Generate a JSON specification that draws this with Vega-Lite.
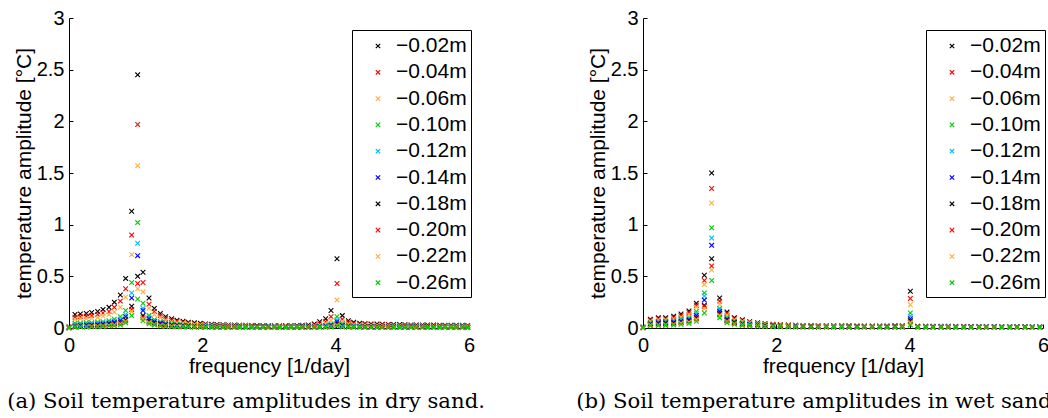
{
"$schema":"https://vega.github.io/schema/vega-lite/v6.json",
"autosize":{"type":"none"},
"padding":{"left":69,"top":18,"right":979,"bottom":400},
"background":"white",
"config":{
 "view":{"stroke":null},
 "axis":{"domainColor":"black","tickColor":"black","labelColor":"black","titleColor":"black","labelFont":"Liberation Sans","titleFont":"Liberation Sans","labelFontSize":20,"titleFontSize":21,"titleFontWeight":"normal","grid":false,"tickSize":-4,"domainWidth":1,"tickWidth":1,"labelFlush":false,"labelOverlap":false},
 "title":{"font":"DejaVu Serif","fontSize":21.2,"fontWeight":"normal","color":"black"}
},
"datasets":{
"L":[
{"f":0,"d":2,"a":0.01},{"f":0,"d":4,"a":0.008},{"f":0,"d":6,"a":0.006},{"f":0,"d":10,"a":0.005},{"f":0,"d":12,"a":0.004},{"f":0,"d":14,"a":0.004},{"f":0,"d":18,"a":0.003},{"f":0,"d":20,"a":0.003},{"f":0,"d":22,"a":0.003},{"f":0,"d":26,"a":0.003},
{"f":0.09,"d":2,"a":0.13},{"f":0.09,"d":4,"a":0.105},{"f":0.09,"d":6,"a":0.085},{"f":0.09,"d":10,"a":0.045},{"f":0.09,"d":12,"a":0.03},{"f":0.09,"d":14,"a":0.02},{"f":0.09,"d":18,"a":0.015},{"f":0.09,"d":20,"a":0.012},{"f":0.09,"d":22,"a":0.01},{"f":0.09,"d":26,"a":0.008},
{"f":0.17,"d":2,"a":0.135},{"f":0.17,"d":4,"a":0.11},{"f":0.17,"d":6,"a":0.09},{"f":0.17,"d":10,"a":0.045},{"f":0.17,"d":12,"a":0.035},{"f":0.17,"d":14,"a":0.025},{"f":0.17,"d":18,"a":0.018},{"f":0.17,"d":20,"a":0.015},{"f":0.17,"d":22,"a":0.012},{"f":0.17,"d":26,"a":0.01},
{"f":0.26,"d":2,"a":0.14},{"f":0.26,"d":4,"a":0.115},{"f":0.26,"d":6,"a":0.09},{"f":0.26,"d":10,"a":0.05},{"f":0.26,"d":12,"a":0.035},{"f":0.26,"d":14,"a":0.03},{"f":0.26,"d":18,"a":0.02},{"f":0.26,"d":20,"a":0.016},{"f":0.26,"d":22,"a":0.013},{"f":0.26,"d":26,"a":0.01},
{"f":0.34,"d":2,"a":0.15},{"f":0.34,"d":4,"a":0.12},{"f":0.34,"d":6,"a":0.095},{"f":0.34,"d":10,"a":0.05},{"f":0.34,"d":12,"a":0.04},{"f":0.34,"d":14,"a":0.03},{"f":0.34,"d":18,"a":0.022},{"f":0.34,"d":20,"a":0.018},{"f":0.34,"d":22,"a":0.015},{"f":0.34,"d":26,"a":0.012},
{"f":0.43,"d":2,"a":0.16},{"f":0.43,"d":4,"a":0.13},{"f":0.43,"d":6,"a":0.1},{"f":0.43,"d":10,"a":0.055},{"f":0.43,"d":12,"a":0.045},{"f":0.43,"d":14,"a":0.035},{"f":0.43,"d":18,"a":0.025},{"f":0.43,"d":20,"a":0.02},{"f":0.43,"d":22,"a":0.017},{"f":0.43,"d":26,"a":0.013},
{"f":0.51,"d":2,"a":0.18},{"f":0.51,"d":4,"a":0.145},{"f":0.51,"d":6,"a":0.115},{"f":0.51,"d":10,"a":0.06},{"f":0.51,"d":12,"a":0.05},{"f":0.51,"d":14,"a":0.04},{"f":0.51,"d":18,"a":0.03},{"f":0.51,"d":20,"a":0.025},{"f":0.51,"d":22,"a":0.02},{"f":0.51,"d":26,"a":0.015},
{"f":0.6,"d":2,"a":0.2},{"f":0.6,"d":4,"a":0.16},{"f":0.6,"d":6,"a":0.13},{"f":0.6,"d":10,"a":0.07},{"f":0.6,"d":12,"a":0.055},{"f":0.6,"d":14,"a":0.045},{"f":0.6,"d":18,"a":0.035},{"f":0.6,"d":20,"a":0.03},{"f":0.6,"d":22,"a":0.025},{"f":0.6,"d":26,"a":0.02},
{"f":0.68,"d":2,"a":0.25},{"f":0.68,"d":4,"a":0.2},{"f":0.68,"d":6,"a":0.155},{"f":0.68,"d":10,"a":0.085},{"f":0.68,"d":12,"a":0.065},{"f":0.68,"d":14,"a":0.055},{"f":0.68,"d":18,"a":0.04},{"f":0.68,"d":20,"a":0.035},{"f":0.68,"d":22,"a":0.03},{"f":0.68,"d":26,"a":0.022},
{"f":0.77,"d":2,"a":0.32},{"f":0.77,"d":4,"a":0.26},{"f":0.77,"d":6,"a":0.2},{"f":0.77,"d":10,"a":0.11},{"f":0.77,"d":12,"a":0.085},{"f":0.77,"d":14,"a":0.07},{"f":0.77,"d":18,"a":0.05},{"f":0.77,"d":20,"a":0.045},{"f":0.77,"d":22,"a":0.04},{"f":0.77,"d":26,"a":0.03},
{"f":0.85,"d":2,"a":0.48},{"f":0.85,"d":4,"a":0.38},{"f":0.85,"d":6,"a":0.3},{"f":0.85,"d":10,"a":0.17},{"f":0.85,"d":12,"a":0.13},{"f":0.85,"d":14,"a":0.11},{"f":0.85,"d":18,"a":0.08},{"f":0.85,"d":20,"a":0.07},{"f":0.85,"d":22,"a":0.06},{"f":0.85,"d":26,"a":0.05},
{"f":0.94,"d":2,"a":1.13},{"f":0.94,"d":4,"a":0.9},{"f":0.94,"d":6,"a":0.71},{"f":0.94,"d":10,"a":0.44},{"f":0.94,"d":12,"a":0.34},{"f":0.94,"d":14,"a":0.29},{"f":0.94,"d":18,"a":0.21},{"f":0.94,"d":20,"a":0.18},{"f":0.94,"d":22,"a":0.16},{"f":0.94,"d":26,"a":0.12},
{"f":1.03,"d":2,"a":2.45},{"f":1.03,"d":4,"a":1.97},{"f":1.03,"d":6,"a":1.57},{"f":1.03,"d":10,"a":1.02},{"f":1.03,"d":12,"a":0.82},{"f":1.03,"d":14,"a":0.7},{"f":1.03,"d":18,"a":0.5},{"f":1.03,"d":20,"a":0.43},{"f":1.03,"d":22,"a":0.38},{"f":1.03,"d":26,"a":0.28},
{"f":1.11,"d":2,"a":0.54},{"f":1.11,"d":4,"a":0.44},{"f":1.11,"d":6,"a":0.35},{"f":1.11,"d":10,"a":0.24},{"f":1.11,"d":12,"a":0.19},{"f":1.11,"d":14,"a":0.17},{"f":1.11,"d":18,"a":0.12},{"f":1.11,"d":20,"a":0.1},{"f":1.11,"d":22,"a":0.09},{"f":1.11,"d":26,"a":0.07},
{"f":1.2,"d":2,"a":0.29},{"f":1.2,"d":4,"a":0.23},{"f":1.2,"d":6,"a":0.19},{"f":1.2,"d":10,"a":0.12},{"f":1.2,"d":12,"a":0.1},{"f":1.2,"d":14,"a":0.09},{"f":1.2,"d":18,"a":0.065},{"f":1.2,"d":20,"a":0.055},{"f":1.2,"d":22,"a":0.05},{"f":1.2,"d":26,"a":0.04},
{"f":1.28,"d":2,"a":0.19},{"f":1.28,"d":4,"a":0.16},{"f":1.28,"d":6,"a":0.13},{"f":1.28,"d":10,"a":0.08},{"f":1.28,"d":12,"a":0.065},{"f":1.28,"d":14,"a":0.06},{"f":1.28,"d":18,"a":0.045},{"f":1.28,"d":20,"a":0.04},{"f":1.28,"d":22,"a":0.035},{"f":1.28,"d":26,"a":0.03},
{"f":1.37,"d":2,"a":0.14},{"f":1.37,"d":4,"a":0.12},{"f":1.37,"d":6,"a":0.1},{"f":1.37,"d":10,"a":0.06},{"f":1.37,"d":12,"a":0.05},{"f":1.37,"d":14,"a":0.045},{"f":1.37,"d":18,"a":0.035},{"f":1.37,"d":20,"a":0.03},{"f":1.37,"d":22,"a":0.025},{"f":1.37,"d":26,"a":0.02},
{"f":1.45,"d":2,"a":0.11},{"f":1.45,"d":4,"a":0.09},{"f":1.45,"d":6,"a":0.075},{"f":1.45,"d":10,"a":0.05},{"f":1.45,"d":12,"a":0.04},{"f":1.45,"d":14,"a":0.035},{"f":1.45,"d":18,"a":0.03},{"f":1.45,"d":20,"a":0.025},{"f":1.45,"d":22,"a":0.02},{"f":1.45,"d":26,"a":0.015},
{"f":1.54,"d":2,"a":0.09},{"f":1.54,"d":4,"a":0.075},{"f":1.54,"d":6,"a":0.06},{"f":1.54,"d":10,"a":0.04},{"f":1.54,"d":12,"a":0.035},{"f":1.54,"d":14,"a":0.03},{"f":1.54,"d":18,"a":0.025},{"f":1.54,"d":20,"a":0.02},{"f":1.54,"d":22,"a":0.016},{"f":1.54,"d":26,"a":0.012},
{"f":1.62,"d":2,"a":0.075},{"f":1.62,"d":4,"a":0.065},{"f":1.62,"d":6,"a":0.05},{"f":1.62,"d":10,"a":0.035},{"f":1.62,"d":12,"a":0.03},{"f":1.62,"d":14,"a":0.025},{"f":1.62,"d":18,"a":0.02},{"f":1.62,"d":20,"a":0.017},{"f":1.62,"d":22,"a":0.014},{"f":1.62,"d":26,"a":0.01},
{"f":1.71,"d":2,"a":0.065},{"f":1.71,"d":4,"a":0.055},{"f":1.71,"d":6,"a":0.045},{"f":1.71,"d":10,"a":0.03},{"f":1.71,"d":12,"a":0.025},{"f":1.71,"d":14,"a":0.021},{"f":1.71,"d":18,"a":0.017},{"f":1.71,"d":20,"a":0.015},{"f":1.71,"d":22,"a":0.012},{"f":1.71,"d":26,"a":0.01},
{"f":1.79,"d":2,"a":0.055},{"f":1.79,"d":4,"a":0.046},{"f":1.79,"d":6,"a":0.04},{"f":1.79,"d":10,"a":0.026},{"f":1.79,"d":12,"a":0.022},{"f":1.79,"d":14,"a":0.019},{"f":1.79,"d":18,"a":0.015},{"f":1.79,"d":20,"a":0.013},{"f":1.79,"d":22,"a":0.011},{"f":1.79,"d":26,"a":0.009},
{"f":1.88,"d":2,"a":0.05},{"f":1.88,"d":4,"a":0.041},{"f":1.88,"d":6,"a":0.035},{"f":1.88,"d":10,"a":0.023},{"f":1.88,"d":12,"a":0.02},{"f":1.88,"d":14,"a":0.017},{"f":1.88,"d":18,"a":0.013},{"f":1.88,"d":20,"a":0.012},{"f":1.88,"d":22,"a":0.01},{"f":1.88,"d":26,"a":0.008},
{"f":1.97,"d":2,"a":0.045},{"f":1.97,"d":4,"a":0.037},{"f":1.97,"d":6,"a":0.031},{"f":1.97,"d":10,"a":0.021},{"f":1.97,"d":12,"a":0.018},{"f":1.97,"d":14,"a":0.015},{"f":1.97,"d":18,"a":0.012},{"f":1.97,"d":20,"a":0.011},{"f":1.97,"d":22,"a":0.009},{"f":1.97,"d":26,"a":0.007},
{"f":2.05,"d":2,"a":0.04},{"f":2.05,"d":4,"a":0.033},{"f":2.05,"d":6,"a":0.028},{"f":2.05,"d":10,"a":0.019},{"f":2.05,"d":12,"a":0.016},{"f":2.05,"d":14,"a":0.014},{"f":2.05,"d":18,"a":0.011},{"f":2.05,"d":20,"a":0.01},{"f":2.05,"d":22,"a":0.008},{"f":2.05,"d":26,"a":0.007},
{"f":2.14,"d":2,"a":0.036},{"f":2.14,"d":4,"a":0.03},{"f":2.14,"d":6,"a":0.025},{"f":2.14,"d":10,"a":0.017},{"f":2.14,"d":12,"a":0.015},{"f":2.14,"d":14,"a":0.013},{"f":2.14,"d":18,"a":0.01},{"f":2.14,"d":20,"a":0.009},{"f":2.14,"d":22,"a":0.008},{"f":2.14,"d":26,"a":0.006},
{"f":2.22,"d":2,"a":0.033},{"f":2.22,"d":4,"a":0.028},{"f":2.22,"d":6,"a":0.023},{"f":2.22,"d":10,"a":0.016},{"f":2.22,"d":12,"a":0.014},{"f":2.22,"d":14,"a":0.012},{"f":2.22,"d":18,"a":0.01},{"f":2.22,"d":20,"a":0.009},{"f":2.22,"d":22,"a":0.007},{"f":2.22,"d":26,"a":0.006},
{"f":2.31,"d":2,"a":0.031},{"f":2.31,"d":4,"a":0.026},{"f":2.31,"d":6,"a":0.022},{"f":2.31,"d":10,"a":0.015},{"f":2.31,"d":12,"a":0.013},{"f":2.31,"d":14,"a":0.011},{"f":2.31,"d":18,"a":0.009},{"f":2.31,"d":20,"a":0.008},{"f":2.31,"d":22,"a":0.007},{"f":2.31,"d":26,"a":0.006},
{"f":2.39,"d":2,"a":0.03},{"f":2.39,"d":4,"a":0.025},{"f":2.39,"d":6,"a":0.021},{"f":2.39,"d":10,"a":0.015},{"f":2.39,"d":12,"a":0.013},{"f":2.39,"d":14,"a":0.011},{"f":2.39,"d":18,"a":0.009},{"f":2.39,"d":20,"a":0.008},{"f":2.39,"d":22,"a":0.007},{"f":2.39,"d":26,"a":0.005},
{"f":2.48,"d":2,"a":0.028},{"f":2.48,"d":4,"a":0.024},{"f":2.48,"d":6,"a":0.02},{"f":2.48,"d":10,"a":0.014},{"f":2.48,"d":12,"a":0.012},{"f":2.48,"d":14,"a":0.01},{"f":2.48,"d":18,"a":0.008},{"f":2.48,"d":20,"a":0.007},{"f":2.48,"d":22,"a":0.006},{"f":2.48,"d":26,"a":0.005},
{"f":2.56,"d":2,"a":0.027},{"f":2.56,"d":4,"a":0.023},{"f":2.56,"d":6,"a":0.019},{"f":2.56,"d":10,"a":0.014},{"f":2.56,"d":12,"a":0.012},{"f":2.56,"d":14,"a":0.01},{"f":2.56,"d":18,"a":0.008},{"f":2.56,"d":20,"a":0.007},{"f":2.56,"d":22,"a":0.006},{"f":2.56,"d":26,"a":0.005},
{"f":2.65,"d":2,"a":0.026},{"f":2.65,"d":4,"a":0.022},{"f":2.65,"d":6,"a":0.019},{"f":2.65,"d":10,"a":0.013},{"f":2.65,"d":12,"a":0.011},{"f":2.65,"d":14,"a":0.01},{"f":2.65,"d":18,"a":0.008},{"f":2.65,"d":20,"a":0.007},{"f":2.65,"d":22,"a":0.006},{"f":2.65,"d":26,"a":0.005},
{"f":2.74,"d":2,"a":0.025},{"f":2.74,"d":4,"a":0.021},{"f":2.74,"d":6,"a":0.018},{"f":2.74,"d":10,"a":0.013},{"f":2.74,"d":12,"a":0.011},{"f":2.74,"d":14,"a":0.009},{"f":2.74,"d":18,"a":0.008},{"f":2.74,"d":20,"a":0.007},{"f":2.74,"d":22,"a":0.006},{"f":2.74,"d":26,"a":0.005},
{"f":2.82,"d":2,"a":0.024},{"f":2.82,"d":4,"a":0.02},{"f":2.82,"d":6,"a":0.017},{"f":2.82,"d":10,"a":0.012},{"f":2.82,"d":12,"a":0.011},{"f":2.82,"d":14,"a":0.009},{"f":2.82,"d":18,"a":0.007},{"f":2.82,"d":20,"a":0.007},{"f":2.82,"d":22,"a":0.006},{"f":2.82,"d":26,"a":0.005},
{"f":2.91,"d":2,"a":0.023},{"f":2.91,"d":4,"a":0.02},{"f":2.91,"d":6,"a":0.017},{"f":2.91,"d":10,"a":0.012},{"f":2.91,"d":12,"a":0.01},{"f":2.91,"d":14,"a":0.009},{"f":2.91,"d":18,"a":0.007},{"f":2.91,"d":20,"a":0.006},{"f":2.91,"d":22,"a":0.006},{"f":2.91,"d":26,"a":0.005},
{"f":2.99,"d":2,"a":0.023},{"f":2.99,"d":4,"a":0.019},{"f":2.99,"d":6,"a":0.016},{"f":2.99,"d":10,"a":0.012},{"f":2.99,"d":12,"a":0.01},{"f":2.99,"d":14,"a":0.009},{"f":2.99,"d":18,"a":0.007},{"f":2.99,"d":20,"a":0.006},{"f":2.99,"d":22,"a":0.005},{"f":2.99,"d":26,"a":0.005},
{"f":3.08,"d":2,"a":0.022},{"f":3.08,"d":4,"a":0.019},{"f":3.08,"d":6,"a":0.016},{"f":3.08,"d":10,"a":0.011},{"f":3.08,"d":12,"a":0.01},{"f":3.08,"d":14,"a":0.008},{"f":3.08,"d":18,"a":0.007},{"f":3.08,"d":20,"a":0.006},{"f":3.08,"d":22,"a":0.005},{"f":3.08,"d":26,"a":0.004},
{"f":3.16,"d":2,"a":0.022},{"f":3.16,"d":4,"a":0.018},{"f":3.16,"d":6,"a":0.016},{"f":3.16,"d":10,"a":0.011},{"f":3.16,"d":12,"a":0.01},{"f":3.16,"d":14,"a":0.008},{"f":3.16,"d":18,"a":0.007},{"f":3.16,"d":20,"a":0.006},{"f":3.16,"d":22,"a":0.005},{"f":3.16,"d":26,"a":0.004},
{"f":3.25,"d":2,"a":0.022},{"f":3.25,"d":4,"a":0.018},{"f":3.25,"d":6,"a":0.015},{"f":3.25,"d":10,"a":0.011},{"f":3.25,"d":12,"a":0.009},{"f":3.25,"d":14,"a":0.008},{"f":3.25,"d":18,"a":0.007},{"f":3.25,"d":20,"a":0.006},{"f":3.25,"d":22,"a":0.005},{"f":3.25,"d":26,"a":0.004},
{"f":3.33,"d":2,"a":0.023},{"f":3.33,"d":4,"a":0.019},{"f":3.33,"d":6,"a":0.016},{"f":3.33,"d":10,"a":0.011},{"f":3.33,"d":12,"a":0.01},{"f":3.33,"d":14,"a":0.008},{"f":3.33,"d":18,"a":0.007},{"f":3.33,"d":20,"a":0.006},{"f":3.33,"d":22,"a":0.005},{"f":3.33,"d":26,"a":0.004},
{"f":3.42,"d":2,"a":0.024},{"f":3.42,"d":4,"a":0.019},{"f":3.42,"d":6,"a":0.016},{"f":3.42,"d":10,"a":0.011},{"f":3.42,"d":12,"a":0.01},{"f":3.42,"d":14,"a":0.008},{"f":3.42,"d":18,"a":0.007},{"f":3.42,"d":20,"a":0.006},{"f":3.42,"d":22,"a":0.005},{"f":3.42,"d":26,"a":0.004},
{"f":3.5,"d":2,"a":0.026},{"f":3.5,"d":4,"a":0.02},{"f":3.5,"d":6,"a":0.017},{"f":3.5,"d":10,"a":0.012},{"f":3.5,"d":12,"a":0.01},{"f":3.5,"d":14,"a":0.009},{"f":3.5,"d":18,"a":0.007},{"f":3.5,"d":20,"a":0.006},{"f":3.5,"d":22,"a":0.005},{"f":3.5,"d":26,"a":0.004},
{"f":3.59,"d":2,"a":0.03},{"f":3.59,"d":4,"a":0.023},{"f":3.59,"d":6,"a":0.018},{"f":3.59,"d":10,"a":0.012},{"f":3.59,"d":12,"a":0.011},{"f":3.59,"d":14,"a":0.009},{"f":3.59,"d":18,"a":0.007},{"f":3.59,"d":20,"a":0.006},{"f":3.59,"d":22,"a":0.005},{"f":3.59,"d":26,"a":0.004},
{"f":3.68,"d":2,"a":0.04},{"f":3.68,"d":4,"a":0.03},{"f":3.68,"d":6,"a":0.022},{"f":3.68,"d":10,"a":0.014},{"f":3.68,"d":12,"a":0.012},{"f":3.68,"d":14,"a":0.01},{"f":3.68,"d":18,"a":0.008},{"f":3.68,"d":20,"a":0.007},{"f":3.68,"d":22,"a":0.006},{"f":3.68,"d":26,"a":0.005},
{"f":3.76,"d":2,"a":0.06},{"f":3.76,"d":4,"a":0.04},{"f":3.76,"d":6,"a":0.03},{"f":3.76,"d":10,"a":0.018},{"f":3.76,"d":12,"a":0.015},{"f":3.76,"d":14,"a":0.012},{"f":3.76,"d":18,"a":0.009},{"f":3.76,"d":20,"a":0.008},{"f":3.76,"d":22,"a":0.007},{"f":3.76,"d":26,"a":0.006},
{"f":3.85,"d":2,"a":0.09},{"f":3.85,"d":4,"a":0.06},{"f":3.85,"d":6,"a":0.045},{"f":3.85,"d":10,"a":0.025},{"f":3.85,"d":12,"a":0.02},{"f":3.85,"d":14,"a":0.016},{"f":3.85,"d":18,"a":0.012},{"f":3.85,"d":20,"a":0.01},{"f":3.85,"d":22,"a":0.009},{"f":3.85,"d":26,"a":0.007},
{"f":3.93,"d":2,"a":0.17},{"f":3.93,"d":4,"a":0.11},{"f":3.93,"d":6,"a":0.07},{"f":3.93,"d":10,"a":0.04},{"f":3.93,"d":12,"a":0.03},{"f":3.93,"d":14,"a":0.025},{"f":3.93,"d":18,"a":0.018},{"f":3.93,"d":20,"a":0.015},{"f":3.93,"d":22,"a":0.013},{"f":3.93,"d":26,"a":0.01},
{"f":4.02,"d":2,"a":0.67},{"f":4.02,"d":4,"a":0.43},{"f":4.02,"d":6,"a":0.27},{"f":4.02,"d":10,"a":0.11},{"f":4.02,"d":12,"a":0.08},{"f":4.02,"d":14,"a":0.06},{"f":4.02,"d":18,"a":0.04},{"f":4.02,"d":20,"a":0.032},{"f":4.02,"d":22,"a":0.026},{"f":4.02,"d":26,"a":0.02},
{"f":4.1,"d":2,"a":0.12},{"f":4.1,"d":4,"a":0.085},{"f":4.1,"d":6,"a":0.06},{"f":4.1,"d":10,"a":0.04},{"f":4.1,"d":12,"a":0.03},{"f":4.1,"d":14,"a":0.025},{"f":4.1,"d":18,"a":0.018},{"f":4.1,"d":20,"a":0.015},{"f":4.1,"d":22,"a":0.013},{"f":4.1,"d":26,"a":0.01},
{"f":4.19,"d":2,"a":0.07},{"f":4.19,"d":4,"a":0.05},{"f":4.19,"d":6,"a":0.04},{"f":4.19,"d":10,"a":0.025},{"f":4.19,"d":12,"a":0.02},{"f":4.19,"d":14,"a":0.017},{"f":4.19,"d":18,"a":0.013},{"f":4.19,"d":20,"a":0.011},{"f":4.19,"d":22,"a":0.01},{"f":4.19,"d":26,"a":0.008},
{"f":4.27,"d":2,"a":0.055},{"f":4.27,"d":4,"a":0.042},{"f":4.27,"d":6,"a":0.033},{"f":4.27,"d":10,"a":0.021},{"f":4.27,"d":12,"a":0.017},{"f":4.27,"d":14,"a":0.015},{"f":4.27,"d":18,"a":0.011},{"f":4.27,"d":20,"a":0.01},{"f":4.27,"d":22,"a":0.009},{"f":4.27,"d":26,"a":0.007},
{"f":4.36,"d":2,"a":0.047},{"f":4.36,"d":4,"a":0.037},{"f":4.36,"d":6,"a":0.03},{"f":4.36,"d":10,"a":0.019},{"f":4.36,"d":12,"a":0.016},{"f":4.36,"d":14,"a":0.013},{"f":4.36,"d":18,"a":0.01},{"f":4.36,"d":20,"a":0.009},{"f":4.36,"d":22,"a":0.008},{"f":4.36,"d":26,"a":0.006},
{"f":4.44,"d":2,"a":0.042},{"f":4.44,"d":4,"a":0.033},{"f":4.44,"d":6,"a":0.027},{"f":4.44,"d":10,"a":0.017},{"f":4.44,"d":12,"a":0.015},{"f":4.44,"d":14,"a":0.012},{"f":4.44,"d":18,"a":0.01},{"f":4.44,"d":20,"a":0.009},{"f":4.44,"d":22,"a":0.007},{"f":4.44,"d":26,"a":0.006},
{"f":4.53,"d":2,"a":0.04},{"f":4.53,"d":4,"a":0.031},{"f":4.53,"d":6,"a":0.025},{"f":4.53,"d":10,"a":0.016},{"f":4.53,"d":12,"a":0.014},{"f":4.53,"d":14,"a":0.012},{"f":4.53,"d":18,"a":0.009},{"f":4.53,"d":20,"a":0.008},{"f":4.53,"d":22,"a":0.007},{"f":4.53,"d":26,"a":0.006},
{"f":4.62,"d":2,"a":0.038},{"f":4.62,"d":4,"a":0.03},{"f":4.62,"d":6,"a":0.024},{"f":4.62,"d":10,"a":0.016},{"f":4.62,"d":12,"a":0.013},{"f":4.62,"d":14,"a":0.011},{"f":4.62,"d":18,"a":0.009},{"f":4.62,"d":20,"a":0.008},{"f":4.62,"d":22,"a":0.007},{"f":4.62,"d":26,"a":0.005},
{"f":4.7,"d":2,"a":0.036},{"f":4.7,"d":4,"a":0.029},{"f":4.7,"d":6,"a":0.023},{"f":4.7,"d":10,"a":0.015},{"f":4.7,"d":12,"a":0.013},{"f":4.7,"d":14,"a":0.011},{"f":4.7,"d":18,"a":0.009},{"f":4.7,"d":20,"a":0.008},{"f":4.7,"d":22,"a":0.006},{"f":4.7,"d":26,"a":0.005},
{"f":4.79,"d":2,"a":0.035},{"f":4.79,"d":4,"a":0.028},{"f":4.79,"d":6,"a":0.022},{"f":4.79,"d":10,"a":0.015},{"f":4.79,"d":12,"a":0.012},{"f":4.79,"d":14,"a":0.01},{"f":4.79,"d":18,"a":0.008},{"f":4.79,"d":20,"a":0.007},{"f":4.79,"d":22,"a":0.006},{"f":4.79,"d":26,"a":0.005},
{"f":4.87,"d":2,"a":0.034},{"f":4.87,"d":4,"a":0.027},{"f":4.87,"d":6,"a":0.022},{"f":4.87,"d":10,"a":0.014},{"f":4.87,"d":12,"a":0.012},{"f":4.87,"d":14,"a":0.01},{"f":4.87,"d":18,"a":0.008},{"f":4.87,"d":20,"a":0.007},{"f":4.87,"d":22,"a":0.006},{"f":4.87,"d":26,"a":0.005},
{"f":4.96,"d":2,"a":0.033},{"f":4.96,"d":4,"a":0.026},{"f":4.96,"d":6,"a":0.021},{"f":4.96,"d":10,"a":0.014},{"f":4.96,"d":12,"a":0.012},{"f":4.96,"d":14,"a":0.01},{"f":4.96,"d":18,"a":0.008},{"f":4.96,"d":20,"a":0.007},{"f":4.96,"d":22,"a":0.006},{"f":4.96,"d":26,"a":0.005},
{"f":5.04,"d":2,"a":0.032},{"f":5.04,"d":4,"a":0.025},{"f":5.04,"d":6,"a":0.02},{"f":5.04,"d":10,"a":0.013},{"f":5.04,"d":12,"a":0.011},{"f":5.04,"d":14,"a":0.01},{"f":5.04,"d":18,"a":0.008},{"f":5.04,"d":20,"a":0.007},{"f":5.04,"d":22,"a":0.006},{"f":5.04,"d":26,"a":0.005},
{"f":5.13,"d":2,"a":0.03},{"f":5.13,"d":4,"a":0.024},{"f":5.13,"d":6,"a":0.02},{"f":5.13,"d":10,"a":0.013},{"f":5.13,"d":12,"a":0.011},{"f":5.13,"d":14,"a":0.009},{"f":5.13,"d":18,"a":0.007},{"f":5.13,"d":20,"a":0.007},{"f":5.13,"d":22,"a":0.006},{"f":5.13,"d":26,"a":0.005},
{"f":5.21,"d":2,"a":0.03},{"f":5.21,"d":4,"a":0.024},{"f":5.21,"d":6,"a":0.019},{"f":5.21,"d":10,"a":0.013},{"f":5.21,"d":12,"a":0.011},{"f":5.21,"d":14,"a":0.009},{"f":5.21,"d":18,"a":0.007},{"f":5.21,"d":20,"a":0.006},{"f":5.21,"d":22,"a":0.006},{"f":5.21,"d":26,"a":0.005},
{"f":5.3,"d":2,"a":0.029},{"f":5.3,"d":4,"a":0.023},{"f":5.3,"d":6,"a":0.019},{"f":5.3,"d":10,"a":0.012},{"f":5.3,"d":12,"a":0.01},{"f":5.3,"d":14,"a":0.009},{"f":5.3,"d":18,"a":0.007},{"f":5.3,"d":20,"a":0.006},{"f":5.3,"d":22,"a":0.005},{"f":5.3,"d":26,"a":0.005},
{"f":5.38,"d":2,"a":0.028},{"f":5.38,"d":4,"a":0.023},{"f":5.38,"d":6,"a":0.018},{"f":5.38,"d":10,"a":0.012},{"f":5.38,"d":12,"a":0.01},{"f":5.38,"d":14,"a":0.009},{"f":5.38,"d":18,"a":0.007},{"f":5.38,"d":20,"a":0.006},{"f":5.38,"d":22,"a":0.005},{"f":5.38,"d":26,"a":0.004},
{"f":5.47,"d":2,"a":0.028},{"f":5.47,"d":4,"a":0.022},{"f":5.47,"d":6,"a":0.018},{"f":5.47,"d":10,"a":0.012},{"f":5.47,"d":12,"a":0.01},{"f":5.47,"d":14,"a":0.008},{"f":5.47,"d":18,"a":0.007},{"f":5.47,"d":20,"a":0.006},{"f":5.47,"d":22,"a":0.005},{"f":5.47,"d":26,"a":0.004},
{"f":5.56,"d":2,"a":0.027},{"f":5.56,"d":4,"a":0.022},{"f":5.56,"d":6,"a":0.018},{"f":5.56,"d":10,"a":0.012},{"f":5.56,"d":12,"a":0.01},{"f":5.56,"d":14,"a":0.008},{"f":5.56,"d":18,"a":0.007},{"f":5.56,"d":20,"a":0.006},{"f":5.56,"d":22,"a":0.005},{"f":5.56,"d":26,"a":0.004},
{"f":5.64,"d":2,"a":0.027},{"f":5.64,"d":4,"a":0.021},{"f":5.64,"d":6,"a":0.017},{"f":5.64,"d":10,"a":0.011},{"f":5.64,"d":12,"a":0.01},{"f":5.64,"d":14,"a":0.008},{"f":5.64,"d":18,"a":0.007},{"f":5.64,"d":20,"a":0.006},{"f":5.64,"d":22,"a":0.005},{"f":5.64,"d":26,"a":0.004},
{"f":5.73,"d":2,"a":0.026},{"f":5.73,"d":4,"a":0.021},{"f":5.73,"d":6,"a":0.017},{"f":5.73,"d":10,"a":0.011},{"f":5.73,"d":12,"a":0.009},{"f":5.73,"d":14,"a":0.008},{"f":5.73,"d":18,"a":0.006},{"f":5.73,"d":20,"a":0.006},{"f":5.73,"d":22,"a":0.005},{"f":5.73,"d":26,"a":0.004},
{"f":5.81,"d":2,"a":0.026},{"f":5.81,"d":4,"a":0.021},{"f":5.81,"d":6,"a":0.017},{"f":5.81,"d":10,"a":0.011},{"f":5.81,"d":12,"a":0.009},{"f":5.81,"d":14,"a":0.008},{"f":5.81,"d":18,"a":0.006},{"f":5.81,"d":20,"a":0.006},{"f":5.81,"d":22,"a":0.005},{"f":5.81,"d":26,"a":0.004},
{"f":5.9,"d":2,"a":0.026},{"f":5.9,"d":4,"a":0.02},{"f":5.9,"d":6,"a":0.017},{"f":5.9,"d":10,"a":0.011},{"f":5.9,"d":12,"a":0.009},{"f":5.9,"d":14,"a":0.008},{"f":5.9,"d":18,"a":0.006},{"f":5.9,"d":20,"a":0.005},{"f":5.9,"d":22,"a":0.005},{"f":5.9,"d":26,"a":0.004},
{"f":5.98,"d":2,"a":0.025},{"f":5.98,"d":4,"a":0.02},{"f":5.98,"d":6,"a":0.016},{"f":5.98,"d":10,"a":0.011},{"f":5.98,"d":12,"a":0.009},{"f":5.98,"d":14,"a":0.008},{"f":5.98,"d":18,"a":0.006},{"f":5.98,"d":20,"a":0.005},{"f":5.98,"d":22,"a":0.005},{"f":5.98,"d":26,"a":0.004}
],
"R":[
{"f":0,"d":2,"a":0.008},{"f":0,"d":4,"a":0.007},{"f":0,"d":6,"a":0.006},{"f":0,"d":10,"a":0.005},{"f":0,"d":12,"a":0.005},{"f":0,"d":14,"a":0.004},{"f":0,"d":18,"a":0.004},{"f":0,"d":20,"a":0.004},{"f":0,"d":22,"a":0.003},{"f":0,"d":26,"a":0.003},
{"f":0.11,"d":2,"a":0.085},{"f":0.11,"d":4,"a":0.075},{"f":0.11,"d":6,"a":0.065},{"f":0.11,"d":10,"a":0.05},{"f":0.11,"d":12,"a":0.045},{"f":0.11,"d":14,"a":0.04},{"f":0.11,"d":18,"a":0.035},{"f":0.11,"d":20,"a":0.03},{"f":0.11,"d":22,"a":0.028},{"f":0.11,"d":26,"a":0.022},
{"f":0.23,"d":2,"a":0.1},{"f":0.23,"d":4,"a":0.09},{"f":0.23,"d":6,"a":0.08},{"f":0.23,"d":10,"a":0.06},{"f":0.23,"d":12,"a":0.055},{"f":0.23,"d":14,"a":0.05},{"f":0.23,"d":18,"a":0.04},{"f":0.23,"d":20,"a":0.035},{"f":0.23,"d":22,"a":0.03},{"f":0.23,"d":26,"a":0.025},
{"f":0.34,"d":2,"a":0.1},{"f":0.34,"d":4,"a":0.09},{"f":0.34,"d":6,"a":0.08},{"f":0.34,"d":10,"a":0.065},{"f":0.34,"d":12,"a":0.055},{"f":0.34,"d":14,"a":0.05},{"f":0.34,"d":18,"a":0.04},{"f":0.34,"d":20,"a":0.035},{"f":0.34,"d":22,"a":0.032},{"f":0.34,"d":26,"a":0.025},
{"f":0.46,"d":2,"a":0.115},{"f":0.46,"d":4,"a":0.1},{"f":0.46,"d":6,"a":0.09},{"f":0.46,"d":10,"a":0.07},{"f":0.46,"d":12,"a":0.06},{"f":0.46,"d":14,"a":0.055},{"f":0.46,"d":18,"a":0.045},{"f":0.46,"d":20,"a":0.04},{"f":0.46,"d":22,"a":0.035},{"f":0.46,"d":26,"a":0.028},
{"f":0.57,"d":2,"a":0.135},{"f":0.57,"d":4,"a":0.12},{"f":0.57,"d":6,"a":0.105},{"f":0.57,"d":10,"a":0.085},{"f":0.57,"d":12,"a":0.075},{"f":0.57,"d":14,"a":0.065},{"f":0.57,"d":18,"a":0.055},{"f":0.57,"d":20,"a":0.05},{"f":0.57,"d":22,"a":0.045},{"f":0.57,"d":26,"a":0.035},
{"f":0.69,"d":2,"a":0.165},{"f":0.69,"d":4,"a":0.15},{"f":0.69,"d":6,"a":0.13},{"f":0.69,"d":10,"a":0.1},{"f":0.69,"d":12,"a":0.09},{"f":0.69,"d":14,"a":0.08},{"f":0.69,"d":18,"a":0.07},{"f":0.69,"d":20,"a":0.06},{"f":0.69,"d":22,"a":0.055},{"f":0.69,"d":26,"a":0.045},
{"f":0.8,"d":2,"a":0.24},{"f":0.8,"d":4,"a":0.22},{"f":0.8,"d":6,"a":0.2},{"f":0.8,"d":10,"a":0.16},{"f":0.8,"d":12,"a":0.14},{"f":0.8,"d":14,"a":0.12},{"f":0.8,"d":18,"a":0.1},{"f":0.8,"d":20,"a":0.09},{"f":0.8,"d":22,"a":0.08},{"f":0.8,"d":26,"a":0.065},
{"f":0.92,"d":2,"a":0.51},{"f":0.92,"d":4,"a":0.46},{"f":0.92,"d":6,"a":0.42},{"f":0.92,"d":10,"a":0.34},{"f":0.92,"d":12,"a":0.31},{"f":0.92,"d":14,"a":0.27},{"f":0.92,"d":18,"a":0.22},{"f":0.92,"d":20,"a":0.21},{"f":0.92,"d":22,"a":0.185},{"f":0.92,"d":26,"a":0.145},
{"f":1.03,"d":2,"a":1.5},{"f":1.03,"d":4,"a":1.35},{"f":1.03,"d":6,"a":1.21},{"f":1.03,"d":10,"a":0.97},{"f":1.03,"d":12,"a":0.87},{"f":1.03,"d":14,"a":0.8},{"f":1.03,"d":18,"a":0.67},{"f":1.03,"d":20,"a":0.6},{"f":1.03,"d":22,"a":0.56},{"f":1.03,"d":26,"a":0.46},
{"f":1.15,"d":2,"a":0.29},{"f":1.15,"d":4,"a":0.26},{"f":1.15,"d":6,"a":0.23},{"f":1.15,"d":10,"a":0.19},{"f":1.15,"d":12,"a":0.175},{"f":1.15,"d":14,"a":0.16},{"f":1.15,"d":18,"a":0.14},{"f":1.15,"d":20,"a":0.13},{"f":1.15,"d":22,"a":0.12},{"f":1.15,"d":26,"a":0.1},
{"f":1.26,"d":2,"a":0.155},{"f":1.26,"d":4,"a":0.14},{"f":1.26,"d":6,"a":0.125},{"f":1.26,"d":10,"a":0.1},{"f":1.26,"d":12,"a":0.09},{"f":1.26,"d":14,"a":0.085},{"f":1.26,"d":18,"a":0.075},{"f":1.26,"d":20,"a":0.07},{"f":1.26,"d":22,"a":0.06},{"f":1.26,"d":26,"a":0.05},
{"f":1.37,"d":2,"a":0.1},{"f":1.37,"d":4,"a":0.09},{"f":1.37,"d":6,"a":0.08},{"f":1.37,"d":10,"a":0.065},{"f":1.37,"d":12,"a":0.06},{"f":1.37,"d":14,"a":0.055},{"f":1.37,"d":18,"a":0.05},{"f":1.37,"d":20,"a":0.045},{"f":1.37,"d":22,"a":0.04},{"f":1.37,"d":26,"a":0.035},
{"f":1.49,"d":2,"a":0.08},{"f":1.49,"d":4,"a":0.07},{"f":1.49,"d":6,"a":0.065},{"f":1.49,"d":10,"a":0.05},{"f":1.49,"d":12,"a":0.045},{"f":1.49,"d":14,"a":0.04},{"f":1.49,"d":18,"a":0.037},{"f":1.49,"d":20,"a":0.033},{"f":1.49,"d":22,"a":0.03},{"f":1.49,"d":26,"a":0.025},
{"f":1.6,"d":2,"a":0.06},{"f":1.6,"d":4,"a":0.055},{"f":1.6,"d":6,"a":0.05},{"f":1.6,"d":10,"a":0.04},{"f":1.6,"d":12,"a":0.037},{"f":1.6,"d":14,"a":0.034},{"f":1.6,"d":18,"a":0.03},{"f":1.6,"d":20,"a":0.027},{"f":1.6,"d":22,"a":0.025},{"f":1.6,"d":26,"a":0.02},
{"f":1.72,"d":2,"a":0.05},{"f":1.72,"d":4,"a":0.046},{"f":1.72,"d":6,"a":0.042},{"f":1.72,"d":10,"a":0.034},{"f":1.72,"d":12,"a":0.031},{"f":1.72,"d":14,"a":0.028},{"f":1.72,"d":18,"a":0.025},{"f":1.72,"d":20,"a":0.023},{"f":1.72,"d":22,"a":0.021},{"f":1.72,"d":26,"a":0.017},
{"f":1.83,"d":2,"a":0.042},{"f":1.83,"d":4,"a":0.039},{"f":1.83,"d":6,"a":0.036},{"f":1.83,"d":10,"a":0.029},{"f":1.83,"d":12,"a":0.027},{"f":1.83,"d":14,"a":0.025},{"f":1.83,"d":18,"a":0.022},{"f":1.83,"d":20,"a":0.02},{"f":1.83,"d":22,"a":0.018},{"f":1.83,"d":26,"a":0.015},
{"f":1.95,"d":2,"a":0.036},{"f":1.95,"d":4,"a":0.033},{"f":1.95,"d":6,"a":0.03},{"f":1.95,"d":10,"a":0.025},{"f":1.95,"d":12,"a":0.023},{"f":1.95,"d":14,"a":0.021},{"f":1.95,"d":18,"a":0.019},{"f":1.95,"d":20,"a":0.017},{"f":1.95,"d":22,"a":0.016},{"f":1.95,"d":26,"a":0.013},
{"f":2.06,"d":2,"a":0.032},{"f":2.06,"d":4,"a":0.03},{"f":2.06,"d":6,"a":0.027},{"f":2.06,"d":10,"a":0.022},{"f":2.06,"d":12,"a":0.02},{"f":2.06,"d":14,"a":0.019},{"f":2.06,"d":18,"a":0.017},{"f":2.06,"d":20,"a":0.015},{"f":2.06,"d":22,"a":0.014},{"f":2.06,"d":26,"a":0.012},
{"f":2.18,"d":2,"a":0.029},{"f":2.18,"d":4,"a":0.027},{"f":2.18,"d":6,"a":0.025},{"f":2.18,"d":10,"a":0.02},{"f":2.18,"d":12,"a":0.019},{"f":2.18,"d":14,"a":0.017},{"f":2.18,"d":18,"a":0.015},{"f":2.18,"d":20,"a":0.014},{"f":2.18,"d":22,"a":0.013},{"f":2.18,"d":26,"a":0.011},
{"f":2.29,"d":2,"a":0.027},{"f":2.29,"d":4,"a":0.025},{"f":2.29,"d":6,"a":0.023},{"f":2.29,"d":10,"a":0.019},{"f":2.29,"d":12,"a":0.017},{"f":2.29,"d":14,"a":0.016},{"f":2.29,"d":18,"a":0.014},{"f":2.29,"d":20,"a":0.013},{"f":2.29,"d":22,"a":0.012},{"f":2.29,"d":26,"a":0.01},
{"f":2.4,"d":2,"a":0.025},{"f":2.4,"d":4,"a":0.023},{"f":2.4,"d":6,"a":0.021},{"f":2.4,"d":10,"a":0.018},{"f":2.4,"d":12,"a":0.016},{"f":2.4,"d":14,"a":0.015},{"f":2.4,"d":18,"a":0.013},{"f":2.4,"d":20,"a":0.012},{"f":2.4,"d":22,"a":0.011},{"f":2.4,"d":26,"a":0.009},
{"f":2.52,"d":2,"a":0.024},{"f":2.52,"d":4,"a":0.022},{"f":2.52,"d":6,"a":0.02},{"f":2.52,"d":10,"a":0.017},{"f":2.52,"d":12,"a":0.015},{"f":2.52,"d":14,"a":0.014},{"f":2.52,"d":18,"a":0.012},{"f":2.52,"d":20,"a":0.011},{"f":2.52,"d":22,"a":0.01},{"f":2.52,"d":26,"a":0.009},
{"f":2.63,"d":2,"a":0.023},{"f":2.63,"d":4,"a":0.021},{"f":2.63,"d":6,"a":0.019},{"f":2.63,"d":10,"a":0.016},{"f":2.63,"d":12,"a":0.015},{"f":2.63,"d":14,"a":0.013},{"f":2.63,"d":18,"a":0.012},{"f":2.63,"d":20,"a":0.011},{"f":2.63,"d":22,"a":0.01},{"f":2.63,"d":26,"a":0.008},
{"f":2.75,"d":2,"a":0.022},{"f":2.75,"d":4,"a":0.02},{"f":2.75,"d":6,"a":0.018},{"f":2.75,"d":10,"a":0.015},{"f":2.75,"d":12,"a":0.014},{"f":2.75,"d":14,"a":0.013},{"f":2.75,"d":18,"a":0.011},{"f":2.75,"d":20,"a":0.01},{"f":2.75,"d":22,"a":0.009},{"f":2.75,"d":26,"a":0.008},
{"f":2.86,"d":2,"a":0.022},{"f":2.86,"d":4,"a":0.02},{"f":2.86,"d":6,"a":0.018},{"f":2.86,"d":10,"a":0.015},{"f":2.86,"d":12,"a":0.014},{"f":2.86,"d":14,"a":0.012},{"f":2.86,"d":18,"a":0.011},{"f":2.86,"d":20,"a":0.01},{"f":2.86,"d":22,"a":0.009},{"f":2.86,"d":26,"a":0.008},
{"f":2.98,"d":2,"a":0.021},{"f":2.98,"d":4,"a":0.019},{"f":2.98,"d":6,"a":0.017},{"f":2.98,"d":10,"a":0.014},{"f":2.98,"d":12,"a":0.013},{"f":2.98,"d":14,"a":0.012},{"f":2.98,"d":18,"a":0.011},{"f":2.98,"d":20,"a":0.01},{"f":2.98,"d":22,"a":0.009},{"f":2.98,"d":26,"a":0.007},
{"f":3.09,"d":2,"a":0.021},{"f":3.09,"d":4,"a":0.019},{"f":3.09,"d":6,"a":0.017},{"f":3.09,"d":10,"a":0.014},{"f":3.09,"d":12,"a":0.013},{"f":3.09,"d":14,"a":0.012},{"f":3.09,"d":18,"a":0.01},{"f":3.09,"d":20,"a":0.009},{"f":3.09,"d":22,"a":0.009},{"f":3.09,"d":26,"a":0.007},
{"f":3.21,"d":2,"a":0.02},{"f":3.21,"d":4,"a":0.018},{"f":3.21,"d":6,"a":0.017},{"f":3.21,"d":10,"a":0.014},{"f":3.21,"d":12,"a":0.013},{"f":3.21,"d":14,"a":0.012},{"f":3.21,"d":18,"a":0.01},{"f":3.21,"d":20,"a":0.009},{"f":3.21,"d":22,"a":0.008},{"f":3.21,"d":26,"a":0.007},
{"f":3.32,"d":2,"a":0.02},{"f":3.32,"d":4,"a":0.018},{"f":3.32,"d":6,"a":0.016},{"f":3.32,"d":10,"a":0.014},{"f":3.32,"d":12,"a":0.012},{"f":3.32,"d":14,"a":0.011},{"f":3.32,"d":18,"a":0.01},{"f":3.32,"d":20,"a":0.009},{"f":3.32,"d":22,"a":0.008},{"f":3.32,"d":26,"a":0.007},
{"f":3.44,"d":2,"a":0.02},{"f":3.44,"d":4,"a":0.018},{"f":3.44,"d":6,"a":0.016},{"f":3.44,"d":10,"a":0.013},{"f":3.44,"d":12,"a":0.012},{"f":3.44,"d":14,"a":0.011},{"f":3.44,"d":18,"a":0.01},{"f":3.44,"d":20,"a":0.009},{"f":3.44,"d":22,"a":0.008},{"f":3.44,"d":26,"a":0.007},
{"f":3.55,"d":2,"a":0.02},{"f":3.55,"d":4,"a":0.018},{"f":3.55,"d":6,"a":0.016},{"f":3.55,"d":10,"a":0.013},{"f":3.55,"d":12,"a":0.012},{"f":3.55,"d":14,"a":0.011},{"f":3.55,"d":18,"a":0.01},{"f":3.55,"d":20,"a":0.009},{"f":3.55,"d":22,"a":0.008},{"f":3.55,"d":26,"a":0.007},
{"f":3.66,"d":2,"a":0.02},{"f":3.66,"d":4,"a":0.018},{"f":3.66,"d":6,"a":0.016},{"f":3.66,"d":10,"a":0.013},{"f":3.66,"d":12,"a":0.012},{"f":3.66,"d":14,"a":0.011},{"f":3.66,"d":18,"a":0.01},{"f":3.66,"d":20,"a":0.009},{"f":3.66,"d":22,"a":0.008},{"f":3.66,"d":26,"a":0.007},
{"f":3.78,"d":2,"a":0.021},{"f":3.78,"d":4,"a":0.019},{"f":3.78,"d":6,"a":0.017},{"f":3.78,"d":10,"a":0.014},{"f":3.78,"d":12,"a":0.013},{"f":3.78,"d":14,"a":0.012},{"f":3.78,"d":18,"a":0.01},{"f":3.78,"d":20,"a":0.009},{"f":3.78,"d":22,"a":0.008},{"f":3.78,"d":26,"a":0.007},
{"f":3.89,"d":2,"a":0.022},{"f":3.89,"d":4,"a":0.02},{"f":3.89,"d":6,"a":0.018},{"f":3.89,"d":10,"a":0.015},{"f":3.89,"d":12,"a":0.013},{"f":3.89,"d":14,"a":0.012},{"f":3.89,"d":18,"a":0.011},{"f":3.89,"d":20,"a":0.01},{"f":3.89,"d":22,"a":0.009},{"f":3.89,"d":26,"a":0.007},
{"f":4.01,"d":2,"a":0.355},{"f":4.01,"d":4,"a":0.285},{"f":4.01,"d":6,"a":0.225},{"f":4.01,"d":10,"a":0.145},{"f":4.01,"d":12,"a":0.115},{"f":4.01,"d":14,"a":0.09},{"f":4.01,"d":18,"a":0.07},{"f":4.01,"d":20,"a":0.06},{"f":4.01,"d":22,"a":0.05},{"f":4.01,"d":26,"a":0.03},
{"f":4.12,"d":2,"a":0.018},{"f":4.12,"d":4,"a":0.016},{"f":4.12,"d":6,"a":0.015},{"f":4.12,"d":10,"a":0.012},{"f":4.12,"d":12,"a":0.011},{"f":4.12,"d":14,"a":0.01},{"f":4.12,"d":18,"a":0.009},{"f":4.12,"d":20,"a":0.008},{"f":4.12,"d":22,"a":0.007},{"f":4.12,"d":26,"a":0.006},
{"f":4.24,"d":2,"a":0.017},{"f":4.24,"d":4,"a":0.015},{"f":4.24,"d":6,"a":0.014},{"f":4.24,"d":10,"a":0.012},{"f":4.24,"d":12,"a":0.011},{"f":4.24,"d":14,"a":0.01},{"f":4.24,"d":18,"a":0.009},{"f":4.24,"d":20,"a":0.008},{"f":4.24,"d":22,"a":0.007},{"f":4.24,"d":26,"a":0.006},
{"f":4.35,"d":2,"a":0.017},{"f":4.35,"d":4,"a":0.015},{"f":4.35,"d":6,"a":0.014},{"f":4.35,"d":10,"a":0.011},{"f":4.35,"d":12,"a":0.01},{"f":4.35,"d":14,"a":0.01},{"f":4.35,"d":18,"a":0.009},{"f":4.35,"d":20,"a":0.008},{"f":4.35,"d":22,"a":0.007},{"f":4.35,"d":26,"a":0.006},
{"f":4.47,"d":2,"a":0.016},{"f":4.47,"d":4,"a":0.015},{"f":4.47,"d":6,"a":0.013},{"f":4.47,"d":10,"a":0.011},{"f":4.47,"d":12,"a":0.01},{"f":4.47,"d":14,"a":0.009},{"f":4.47,"d":18,"a":0.008},{"f":4.47,"d":20,"a":0.008},{"f":4.47,"d":22,"a":0.007},{"f":4.47,"d":26,"a":0.006},
{"f":4.58,"d":2,"a":0.016},{"f":4.58,"d":4,"a":0.014},{"f":4.58,"d":6,"a":0.013},{"f":4.58,"d":10,"a":0.011},{"f":4.58,"d":12,"a":0.01},{"f":4.58,"d":14,"a":0.009},{"f":4.58,"d":18,"a":0.008},{"f":4.58,"d":20,"a":0.007},{"f":4.58,"d":22,"a":0.007},{"f":4.58,"d":26,"a":0.006},
{"f":4.69,"d":2,"a":0.015},{"f":4.69,"d":4,"a":0.014},{"f":4.69,"d":6,"a":0.013},{"f":4.69,"d":10,"a":0.011},{"f":4.69,"d":12,"a":0.01},{"f":4.69,"d":14,"a":0.009},{"f":4.69,"d":18,"a":0.008},{"f":4.69,"d":20,"a":0.007},{"f":4.69,"d":22,"a":0.006},{"f":4.69,"d":26,"a":0.005},
{"f":4.81,"d":2,"a":0.015},{"f":4.81,"d":4,"a":0.014},{"f":4.81,"d":6,"a":0.012},{"f":4.81,"d":10,"a":0.01},{"f":4.81,"d":12,"a":0.01},{"f":4.81,"d":14,"a":0.009},{"f":4.81,"d":18,"a":0.008},{"f":4.81,"d":20,"a":0.007},{"f":4.81,"d":22,"a":0.006},{"f":4.81,"d":26,"a":0.005},
{"f":4.92,"d":2,"a":0.015},{"f":4.92,"d":4,"a":0.013},{"f":4.92,"d":6,"a":0.012},{"f":4.92,"d":10,"a":0.01},{"f":4.92,"d":12,"a":0.009},{"f":4.92,"d":14,"a":0.009},{"f":4.92,"d":18,"a":0.008},{"f":4.92,"d":20,"a":0.007},{"f":4.92,"d":22,"a":0.006},{"f":4.92,"d":26,"a":0.005},
{"f":5.04,"d":2,"a":0.014},{"f":5.04,"d":4,"a":0.013},{"f":5.04,"d":6,"a":0.012},{"f":5.04,"d":10,"a":0.01},{"f":5.04,"d":12,"a":0.009},{"f":5.04,"d":14,"a":0.008},{"f":5.04,"d":18,"a":0.007},{"f":5.04,"d":20,"a":0.007},{"f":5.04,"d":22,"a":0.006},{"f":5.04,"d":26,"a":0.005},
{"f":5.15,"d":2,"a":0.014},{"f":5.15,"d":4,"a":0.013},{"f":5.15,"d":6,"a":0.012},{"f":5.15,"d":10,"a":0.01},{"f":5.15,"d":12,"a":0.009},{"f":5.15,"d":14,"a":0.008},{"f":5.15,"d":18,"a":0.007},{"f":5.15,"d":20,"a":0.007},{"f":5.15,"d":22,"a":0.006},{"f":5.15,"d":26,"a":0.005},
{"f":5.27,"d":2,"a":0.014},{"f":5.27,"d":4,"a":0.013},{"f":5.27,"d":6,"a":0.011},{"f":5.27,"d":10,"a":0.01},{"f":5.27,"d":12,"a":0.009},{"f":5.27,"d":14,"a":0.008},{"f":5.27,"d":18,"a":0.007},{"f":5.27,"d":20,"a":0.006},{"f":5.27,"d":22,"a":0.006},{"f":5.27,"d":26,"a":0.005},
{"f":5.38,"d":2,"a":0.013},{"f":5.38,"d":4,"a":0.012},{"f":5.38,"d":6,"a":0.011},{"f":5.38,"d":10,"a":0.01},{"f":5.38,"d":12,"a":0.009},{"f":5.38,"d":14,"a":0.008},{"f":5.38,"d":18,"a":0.007},{"f":5.38,"d":20,"a":0.006},{"f":5.38,"d":22,"a":0.006},{"f":5.38,"d":26,"a":0.005},
{"f":5.5,"d":2,"a":0.013},{"f":5.5,"d":4,"a":0.012},{"f":5.5,"d":6,"a":0.011},{"f":5.5,"d":10,"a":0.009},{"f":5.5,"d":12,"a":0.009},{"f":5.5,"d":14,"a":0.008},{"f":5.5,"d":18,"a":0.007},{"f":5.5,"d":20,"a":0.006},{"f":5.5,"d":22,"a":0.006},{"f":5.5,"d":26,"a":0.005},
{"f":5.61,"d":2,"a":0.013},{"f":5.61,"d":4,"a":0.012},{"f":5.61,"d":6,"a":0.011},{"f":5.61,"d":10,"a":0.009},{"f":5.61,"d":12,"a":0.008},{"f":5.61,"d":14,"a":0.008},{"f":5.61,"d":18,"a":0.007},{"f":5.61,"d":20,"a":0.006},{"f":5.61,"d":22,"a":0.005},{"f":5.61,"d":26,"a":0.005},
{"f":5.73,"d":2,"a":0.013},{"f":5.73,"d":4,"a":0.012},{"f":5.73,"d":6,"a":0.011},{"f":5.73,"d":10,"a":0.009},{"f":5.73,"d":12,"a":0.008},{"f":5.73,"d":14,"a":0.008},{"f":5.73,"d":18,"a":0.007},{"f":5.73,"d":20,"a":0.006},{"f":5.73,"d":22,"a":0.005},{"f":5.73,"d":26,"a":0.004},
{"f":5.84,"d":2,"a":0.012},{"f":5.84,"d":4,"a":0.011},{"f":5.84,"d":6,"a":0.01},{"f":5.84,"d":10,"a":0.009},{"f":5.84,"d":12,"a":0.008},{"f":5.84,"d":14,"a":0.007},{"f":5.84,"d":18,"a":0.006},{"f":5.84,"d":20,"a":0.006},{"f":5.84,"d":22,"a":0.005},{"f":5.84,"d":26,"a":0.004},
{"f":5.95,"d":2,"a":0.012},{"f":5.95,"d":4,"a":0.011},{"f":5.95,"d":6,"a":0.01},{"f":5.95,"d":10,"a":0.009},{"f":5.95,"d":12,"a":0.008},{"f":5.95,"d":14,"a":0.007},{"f":5.95,"d":18,"a":0.006},{"f":5.95,"d":20,"a":0.006},{"f":5.95,"d":22,"a":0.005},{"f":5.95,"d":26,"a":0.004}
]
},
"spacing":174,
"bounds":"flush",
"resolve":{"scale":{"color":"independent"},"legend":{"color":"independent"}},
"hconcat":[
{"width":400,"height":310,"data":{"name":"L"},
 "title":{"text":"(a) Soil temperature amplitudes in dry sand.","orient":"bottom","anchor":"start","dx":-6,"offset":15},
 "mark":{"type":"point","shape":"M-1,-1L1,1M1,-1L-1,1","filled":false,"size":22,"strokeWidth":1.1,"opacity":1},
 "encoding":{
  "x":{"field":"f","type":"quantitative","scale":{"domain":[0,6],"nice":false},"axis":{"values":[0,2,4,6],"title":"frequency [1/day]","labelPadding":11,"titlePadding":0}},
  "y":{"field":"a","type":"quantitative","scale":{"domain":[0,3],"nice":false},"axis":{"values":[0,0.5,1,1.5,2,2.5,3],"format":"~g","title":"temperature amplitude [°C]","labelPadding":9,"titlePadding":2}},
  "color":{"field":"d","type":"nominal","scale":{"domain":[2,4,6,10,12,14,18,20,22,26],"range":["#000000","#ff0000","#ffb040","#00cc00","#00bfff","#0000ff","#000000","#ff0000","#ffb040","#00cc00"]},
   "legend":{"title":null,"orient":"none","legendX":283,"legendY":12,"strokeColor":"black","fillColor":"white","padding":4,"rowPadding":4.3,"symbolType":"M-0.2,-0.2L0.2,0.2M0.2,-0.2L-0.2,0.2","symbolSize":484,"symbolStrokeWidth":1.2,"symbolOffset":10,"labelOffset":6,"labelFontSize":21,"labelFont":"Liberation Sans","labelColor":"black","labelLimit":200,"labelExpr":"'−0.' + (datum.value < 10 ? '0' : '') + datum.value + 'm'","encode":{"legend":{"update":{"strokeWidth":{"value":1.5}}}}}}
 }},
{"width":400,"height":310,"data":{"name":"R"},
 "title":{"text":"(b) Soil temperature amplitudes in wet sand.","orient":"bottom","anchor":"start","dx":-11,"offset":15},
 "mark":{"type":"point","shape":"M-1,-1L1,1M1,-1L-1,1","filled":false,"size":22,"strokeWidth":1.1,"opacity":1},
 "encoding":{
  "x":{"field":"f","type":"quantitative","scale":{"domain":[0,6],"nice":false},"axis":{"values":[0,2,4,6],"title":"frequency [1/day]","labelPadding":11,"titlePadding":0}},
  "y":{"field":"a","type":"quantitative","scale":{"domain":[0,3],"nice":false},"axis":{"values":[0,0.5,1,1.5,2,2.5,3],"format":"~g","title":"temperature amplitude [°C]","labelPadding":9,"titlePadding":2}},
  "color":{"field":"d","type":"nominal","scale":{"domain":[2,4,6,10,12,14,18,20,22,26],"range":["#000000","#ff0000","#ffb040","#00cc00","#00bfff","#0000ff","#000000","#ff0000","#ffb040","#00cc00"]},
   "legend":{"title":null,"orient":"none","legendX":283,"legendY":12,"strokeColor":"black","fillColor":"white","padding":4,"rowPadding":4.3,"symbolType":"M-0.2,-0.2L0.2,0.2M0.2,-0.2L-0.2,0.2","symbolSize":484,"symbolStrokeWidth":1.2,"symbolOffset":10,"labelOffset":6,"labelFontSize":21,"labelFont":"Liberation Sans","labelColor":"black","labelLimit":200,"labelExpr":"'−0.' + (datum.value < 10 ? '0' : '') + datum.value + 'm'","encode":{"legend":{"update":{"strokeWidth":{"value":1.5}}}}}}
 }}
]
}
